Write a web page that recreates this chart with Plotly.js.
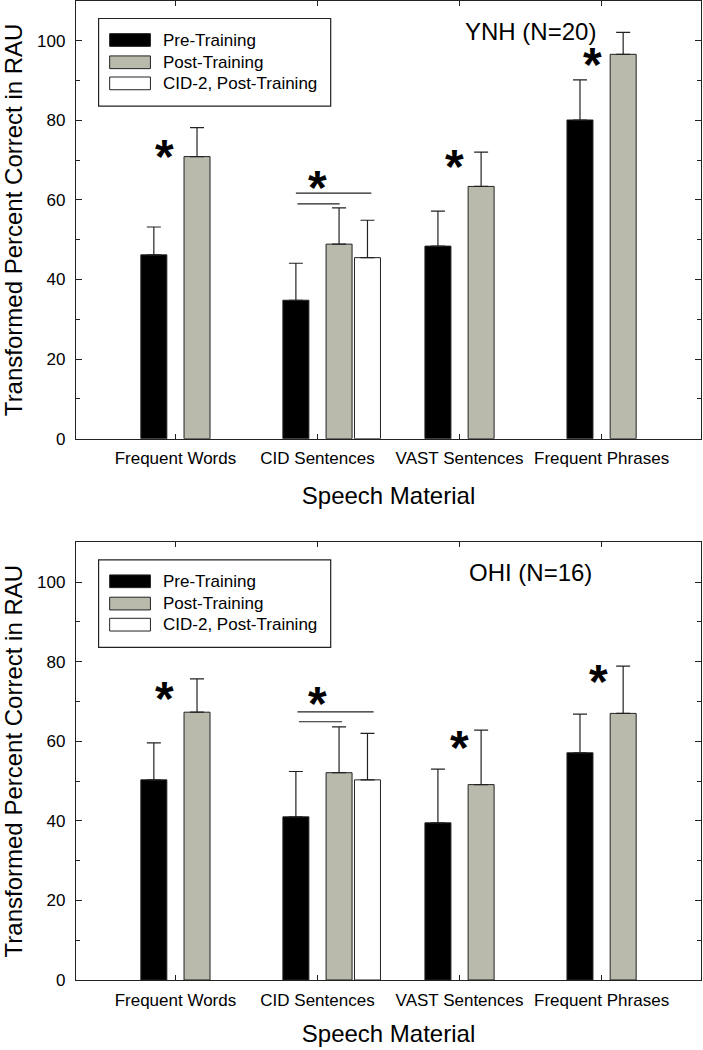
<!DOCTYPE html>
<html><head><meta charset="utf-8">
<script src="https://cdn.plot.ly/plotly-3.0.1.min.js"></script>
<style>body{margin:0;background:#fff}#chart{width:703px;height:1050px}</style>
</head><body><div id="chart"></div>
<script>
// ---- data ----
const categories = ["Frequent Words", "CID Sentences", "VAST Sentences", "Frequent Phrases"];
const cid2Category = ["CID Sentences"];
const seriesNames = ["Pre-Training", "Post-Training", "CID-2, Post-Training"];
const panelLabels = ["YNH (N=20)", "OHI (N=16)"];

const ynhPre      = [46.2, 34.8, 48.4, 80.1];
const ynhPreErr   = [7.0, 9.3, 8.8, 10.1];
const ynhPost     = [70.9, 48.9, 63.4, 96.6];
const ynhPostErr  = [7.3, 9.1, 8.6, 5.5];
const ynhCid2     = [45.5];
const ynhCid2Err  = [9.4];

const ohiPre      = [50.3, 41.0, 39.5, 57.1];
const ohiPreErr   = [9.3, 11.4, 13.5, 9.7];
const ohiPost     = [67.3, 52.1, 49.1, 67.0];
const ohiPostErr  = [8.4, 11.5, 13.7, 11.9];
const ohiCid2     = [50.3];
const ohiCid2Err  = [11.7];

const yTickVals = [0, 20, 40, 60, 80, 100];

// significance asterisks: [category index offset, y]
const starsYNH = [[-0.075, 72.4], [1.0, 64.7], [1.965, 70.0], [2.935, 95.6]];
const starsOHI = [[-0.075, 72.2], [1.0, 70.9], [2.0, 59.9], [2.975, 76.4]];
// significance lines: [x0, x1, y]
const sigLinesYNH = [[0.848, 1.379, 61.7], [0.859, 1.156, 59.0]];
const sigLinesOHI = [[0.859, 1.395, 67.4], [0.869, 1.173, 64.9]];

// ---- style ----
const FONT = "Liberation Sans, Arial, sans-serif";
const colors = ["#000000", "#b9b9ac", "#ffffff"];
const lineCol = "#222222";
const barW = 0.183;
const barOffsets = [-0.152, 0.152, 0.352];

function barTrace(x, y, err, idx, xa, ya) {
  return {
    type: "bar", x: x, y: y, xaxis: xa, yaxis: ya,
    name: seriesNames[idx], showlegend: false,
    width: barW, offset: barOffsets[idx] - barW / 2,
    marker: {color: colors[idx], line: {color: lineCol, width: 1}},
    error_y: {type: "data", symmetric: false, array: err, arrayminus: err.map(() => 0),
              color: lineCol, thickness: 1.2, width: 7},
    hoverinfo: "x+y"
  };
}

const data = [
  barTrace(categories, ynhPre, ynhPreErr, 0, "x", "y"),
  barTrace(categories, ynhPost, ynhPostErr, 1, "x", "y"),
  barTrace(cid2Category, ynhCid2, ynhCid2Err, 2, "x", "y"),
  barTrace(categories, ohiPre, ohiPreErr, 0, "x2", "y2"),
  barTrace(categories, ohiPost, ohiPostErr, 1, "x2", "y2"),
  barTrace(cid2Category, ohiCid2, ohiCid2Err, 2, "x2", "y2")
];

function xAxis(anchor, standoff) {
  return {
    anchor: anchor, domain: [0, 1], range: [-0.7, 3.7], type: "category",
    categoryorder: "array", categoryarray: categories,
    showline: true, linecolor: lineCol, linewidth: 1.2, mirror: "ticks",
    ticks: "inside", ticklen: 5, tickcolor: lineCol, tickwidth: 1,
    showgrid: false, zeroline: false, fixedrange: true,
    tickfont: {family: FONT, size: 17, color: "#000"},
    ticklabelstandoff: 4,
    title: {text: "Speech Material", font: {family: FONT, size: 24, color: "#000"}, standoff: standoff}
  };
}
function yAxis(anchor, domain) {
  return {
    anchor: anchor, domain: domain, range: [0, 110],
    tickmode: "array", tickvals: yTickVals,
    showline: true, linecolor: lineCol, linewidth: 1.2, mirror: "ticks",
    ticks: "inside", ticklen: 6, tickcolor: lineCol, tickwidth: 1,
    minor: {tickmode: "linear", tick0: 0, dtick: 10, ticks: "inside", ticklen: 4, tickcolor: lineCol, tickwidth: 1, showgrid: false},
    showgrid: false, zeroline: false, fixedrange: true,
    tickfont: {family: FONT, size: 17, color: "#000"},
    ticklabelstandoff: 6,
    title: {text: "Transformed Percent Correct in RAU", font: {family: FONT, size: 24, color: "#000"}, standoff: 18}
  };
}

const shapes = [];
const annotations = [];

function addPanelDecor(xa, ya, label, stars, sigLines) {
  // legend box
  shapes.push({type: "rect", xref: xa, yref: ya, x0: -0.541, x1: 1.093, y0: 83.6, y1: 105.6,
               line: {color: lineCol, width: 1.2}, fillcolor: "rgba(0,0,0,0)"});
  const rows = [100.2, 94.6, 89.3];
  rows.forEach((yc, i) => {
    shapes.push({type: "rect", xref: xa, yref: ya, x0: -0.463, x1: -0.176, y0: yc - 1.6, y1: yc + 1.6,
                 line: {color: lineCol, width: 1}, fillcolor: colors[i]});
    annotations.push({xref: xa, yref: ya, x: -0.103, y: yc, xanchor: "left", yanchor: "middle",
                      text: seriesNames[i], showarrow: false, font: {family: FONT, size: 17, color: "#000"}});
  });
  annotations.push({xref: xa, yref: ya, x: 2.497, y: 102.4, xanchor: "center", yanchor: "middle",
                    text: label, showarrow: false, font: {family: FONT, size: 24, color: "#000"}});
  stars.forEach(s => {
    annotations.push({xref: xa, yref: ya, x: s[0], y: s[1], xanchor: "center", yanchor: "middle",
                      text: "<b>*</b>", showarrow: false, yshift: -6,
                      font: {family: FONT, size: 48, color: "#000"}});
  });
  sigLines.forEach(l => {
    shapes.push({type: "line", xref: xa, yref: ya, x0: l[0], x1: l[1], y0: l[2], y1: l[2],
                 line: {color: lineCol, width: 1.2}});
  });
}
addPanelDecor("x", "y", panelLabels[0], starsYNH, sigLinesYNH);
addPanelDecor("x2", "y2", panelLabels[1], starsOHI, sigLinesOHI);

const layout = {
  width: 703, height: 1050,
  margin: {l: 76, r: 2, t: 1, b: 70},
  paper_bgcolor: "#fff", plot_bgcolor: "#fff",
  font: {family: FONT, color: "#000"},
  showlegend: false, bargap: 0,
  xaxis: xAxis("y", 19),
  yaxis: yAxis("x", [0.5529, 1]),
  xaxis2: xAxis("y2", 16),
  yaxis2: yAxis("x2", [0, 0.4471]),
  shapes: shapes, annotations: annotations
};

Plotly.newPlot("chart", data, layout, {displayModeBar: false, staticPlot: true});
</script>
</body></html>
